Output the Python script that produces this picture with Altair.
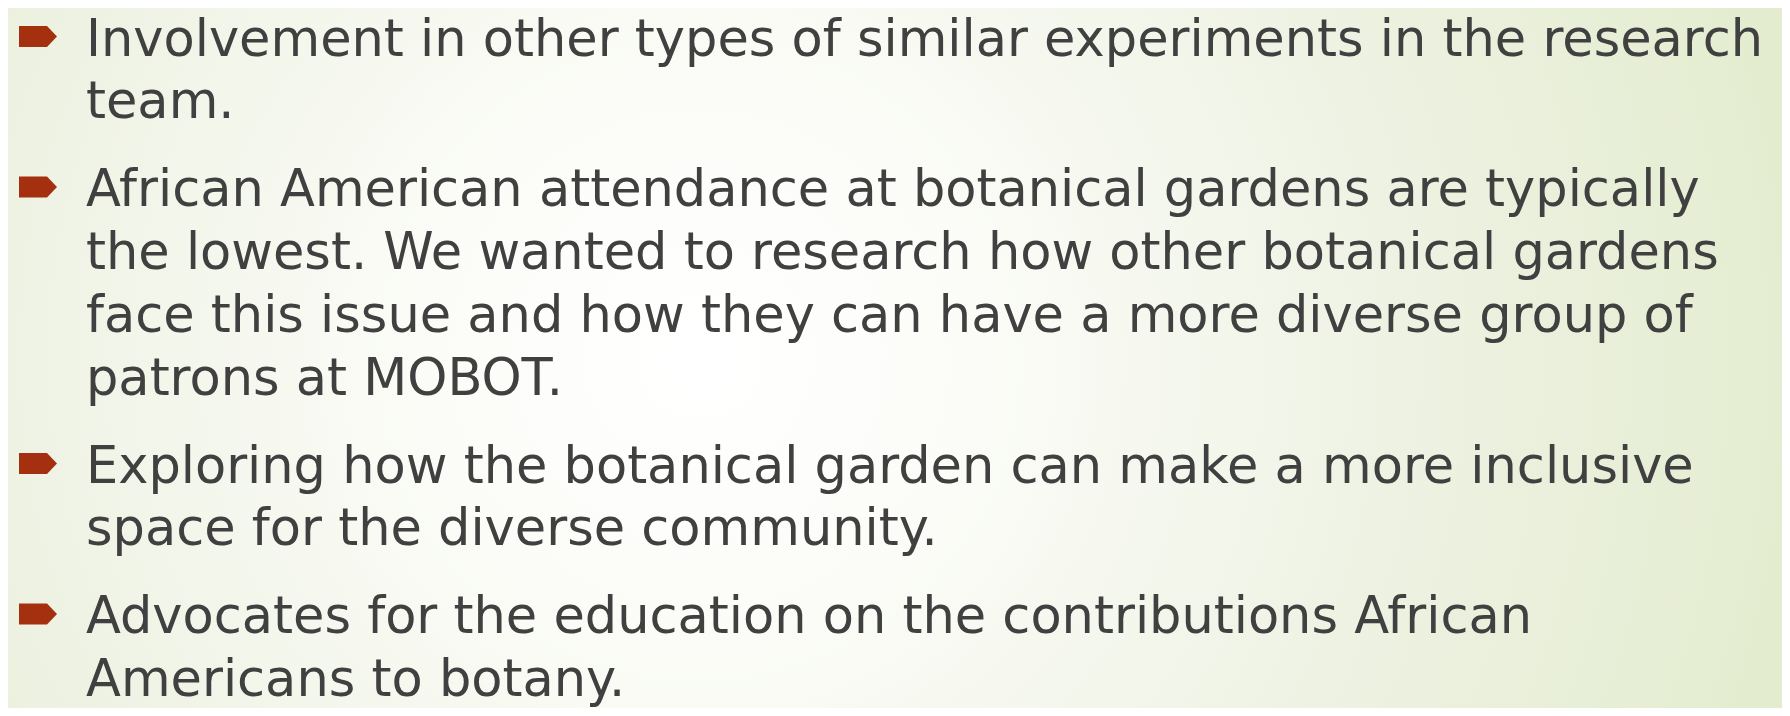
import altair as alt
import pandas as pd

# ---- content ----
paragraphs = [
    ["Involvement in other types of similar experiments in the research",
     "team."],
    ["African American attendance at botanical gardens are typically",
     "the lowest. We wanted to research how other botanical gardens",
     "face this issue and how they can have a more diverse group of",
     "patrons at MOBOT."],
    ["Exploring how the botanical garden can make a more inclusive",
     "space for the diverse community."],
    ["Advocates for the education on the contributions African",
     "Americans to botany."],
]

# ---- layout (screen pixels) ----
W, H = 1774, 700
OFF = 8
FIRST_BASE = 55.5
LINE_STEP = 62.9
PARA_EXTRA = 24.8
TEXT_X = 86
BULLET_X = 38

rows = []
bullets = []
k = 0
for p, lines in enumerate(paragraphs):
    for i, line in enumerate(lines):
        base = FIRST_BASE + LINE_STEP * k + PARA_EXTRA * p
        rows.append({"text": line, "x": TEXT_X, "y": base})
        if i == 0:
            bullets.append({"x": BULLET_X, "y": base})
        k += 1

text_df = pd.DataFrame(rows)
bullet_df = pd.DataFrame(bullets)

xs = alt.Scale(domain=[OFF, OFF + W])
ys = alt.Scale(domain=[OFF, OFF + H], reverse=True)

bg = alt.Chart(pd.DataFrame({"a": [0]})).mark_rect(
    fill=alt.RadialGradient(
        gradient="radial",
        stops=[
            alt.GradientStop(color="#ffffff", offset=0),
            alt.GradientStop(color="#fcfdf9", offset=0.2),
            alt.GradientStop(color="#eef2e3", offset=0.58),
            alt.GradientStop(color="#e3ecce", offset=0.95),
            alt.GradientStop(color="#e1eacb", offset=1),
        ],
        x1=0.39, y1=0.5, r1=0,
        x2=0.39, y2=0.5, r2=0.68,
    ),
    strokeWidth=0,
).encode(
    x=alt.value(0), x2=alt.value(W), y=alt.value(0), y2=alt.value(H)
)

arrow = "M -1 -0.553 L 0.474 -0.553 L 1 0 L 0.474 0.553 L -1 0.553 Z"
bul = alt.Chart(bullet_df).mark_point(
    shape=arrow, filled=True, size=1444, color="#A5300F", opacity=1,
    strokeWidth=0, yOffset=-19,
).encode(
    x=alt.X("x:Q", scale=xs, axis=None),
    y=alt.Y("y:Q", scale=ys, axis=None),
)

txt = alt.Chart(text_df).mark_text(
    align="left", baseline="alphabetic", font="DejaVu Sans", fontSize=51,
    color="#404040",
).encode(
    x=alt.X("x:Q", scale=xs, axis=None),
    y=alt.Y("y:Q", scale=ys, axis=None),
    text="text:N",
)

chart = alt.layer(bg, bul, txt).properties(
    width=W, height=H, padding=0, autosize="none"
).configure_view(stroke=None)

chart.save("out.html", embed_options={"renderer": "svg", "actions": False})
